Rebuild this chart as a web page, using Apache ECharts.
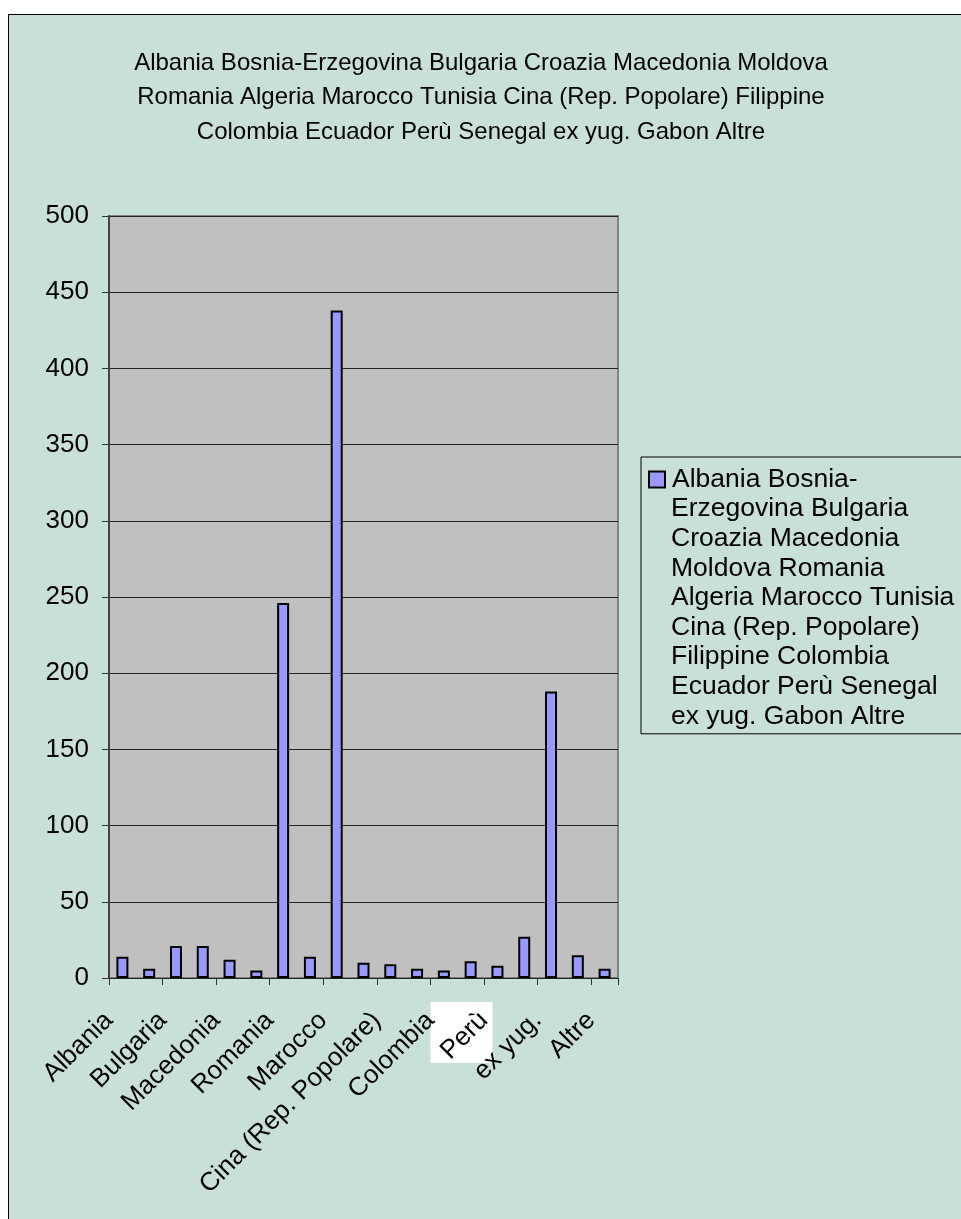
<!DOCTYPE html>
<html>
<head>
<meta charset="utf-8">
<script src="https://cdn.jsdelivr.net/npm/echarts@6/dist/echarts.min.js"></script>
<style>
    html, body { margin: 0; padding: 0; background: #fff; overflow: hidden; width: 961px; height: 1219px; }
    #panel { position: absolute; left: 8px; top: 14px; width: 1100px; height: 1300px;
             border: 1px solid #000; background: #C9E0D9; }
    #main { position: absolute; left: 0; top: 0; width: 952px; height: 1204px; }
</style>
</head>
<body>
<div id="panel"><div id="main"></div></div>
<script>
    var paesi = ['Albania', 'Bosnia-Erzegovina', 'Bulgaria', 'Croazia', 'Macedonia', 'Moldova',
        'Romania', 'Algeria', 'Marocco', 'Tunisia', 'Cina (Rep. Popolare)', 'Filippine',
        'Colombia', 'Ecuador', 'Perù', 'Senegal', 'ex yug.', 'Gabon', 'Altre'];
    var valori = [14, 6, 21, 21, 12, 5, 246, 14, 438, 10, 9, 6, 5, 11, 8, 27, 188, 15, 6];
    var yTicks = [0, 50, 100, 150, 200, 250, 300, 350, 400, 450, 500];

    var titolo = 'Albania Bosnia-Erzegovina Bulgaria Croazia Macedonia Moldova\n' +
        'Romania Algeria Marocco Tunisia Cina (Rep. Popolare) Filippine\n' +
        'Colombia Ecuador Perù Senegal ex yug. Gabon Altre';
    var nomeSerie = paesi.join(' ');
    var righeLegenda = ['Albania Bosnia-', 'Erzegovina Bulgaria', 'Croazia Macedonia',
        'Moldova Romania', 'Algeria Marocco Tunisia', 'Cina (Rep. Popolare)',
        'Filippine Colombia', 'Ecuador Perù Senegal', 'ex yug. Gabon Altre'];

    var myChart = echarts.init(document.getElementById('main'));

    var option = {
        backgroundColor: 'transparent',
        animation: false,
        textStyle: { fontFamily: 'Liberation Sans, Arial, sans-serif', color: '#000' },
        title: {
            text: titolo,
            left: 467,
            top: 26,
            textAlign: 'center',
            textStyle: { fontSize: 24, fontWeight: 'normal', lineHeight: 34.5, color: '#000' }
        },
        legend: {
            left: 632,
            top: 442,
            orient: 'vertical',
            icon: 'none',
            itemWidth: 0,
            itemHeight: 16,
            backgroundColor: '#C9E0D9',
            borderColor: '#000',
            borderWidth: 1,
            padding: [9, 60, 4, 4],
            data: [nomeSerie],
            formatter: function () {
                return righeLegenda.map(function (r, i) {
                    return (i === 0 ? '{sq|}{gap|}' : '{sp|}') + '{t|' + r + '}';
                }).join('\n');
            },
            textStyle: {
                rich: {
                    sq: { width: 14, height: 14, backgroundColor: '#9999FF', borderColor: '#000', borderWidth: 2 },
                    gap: { width: 8, height: 14 },
                    sp: { width: 21, height: 14 },
                    t: { fontSize: 26.5, lineHeight: 29.6, color: '#000', fontFamily: 'Liberation Sans, Arial, sans-serif' }
                }
            }
        },
        grid: {
            left: 100,
            top: 201,
            width: 509,
            height: 762,
            show: true,
            backgroundColor: '#C0C0C0',
            borderColor: '#808080',
            borderWidth: 2
        },
        xAxis: {
            type: 'category',
            data: paesi,
            z: 5,
            axisLine: { lineStyle: { color: '#222', width: 1 } },
            axisTick: { show: true, length: 7, lineStyle: { color: '#333' } },
            axisLabel: {
                interval: 1,
                rotate: 45,
                margin: 25,
                padding: [0, 19, 0, 0],
                fontSize: 26,
                color: '#000'
            }
        },
        yAxis: {
            type: 'value',
            min: 0,
            max: 500,
            interval: 50,
            axisLine: { show: true, lineStyle: { color: '#444', width: 2 } },
            axisTick: { show: true, length: 7, lineStyle: { color: '#333' } },
            axisLabel: {
                margin: 20,
                fontSize: 26,
                color: '#000',
                customValues: yTicks
            },
            splitLine: { show: true, lineStyle: { color: '#222', width: 1 } }
        },
        series: [
            {
                name: nomeSerie,
                type: 'bar',
                data: valori,
                barWidth: 12,
                itemStyle: { color: '#9999FF', borderColor: '#000', borderWidth: 2 }
            }
        ]
    };

    myChart.setOption(option);

    // white patch behind the "Perù" label
    var px = myChart.convertToPixel({ xAxisIndex: 0 }, 'Perù');
    var py = myChart.convertToPixel({ yAxisIndex: 0 }, 0);
    myChart.setOption({
        graphic: [{
            type: 'rect',
            z: 1,
            shape: { x: px - 67, y: py + 24, width: 62, height: 61 },
            style: { fill: '#fff' }
        }]
    });
</script>
</body>
</html>
